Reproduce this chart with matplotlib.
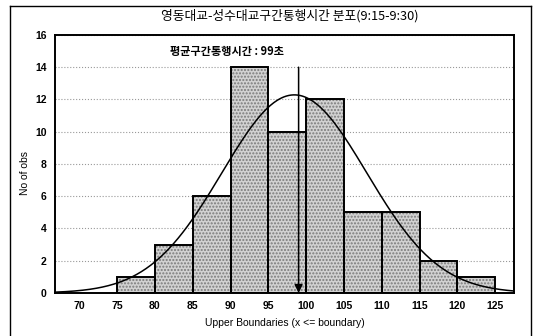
import numpy as np
import matplotlib.pyplot as plt
from matplotlib.lines import Line2D

plt.rcParams['font.family'] = ['Liberation Sans', 'Noto Sans CJK KR', 'DejaVu Sans']

# 통행시간 구간 (상한 경계) 및 도수
bin_edges = [75, 80, 85, 90, 95, 100, 105, 110, 115, 120, 125]
counts = [1, 3, 6, 14, 10, 12, 5, 5, 2, 1]
mean_label = 99
x_ticks = list(range(70, 130, 5))
y_ticks = list(range(0, 18, 2))

edges = np.array(bin_edges, dtype=float)
mids = (edges[:-1] + edges[1:]) / 2
widths = np.diff(edges)
cnt = np.array(counts, dtype=float)

# 구간 자료로 정규분포 곡선 적합
n = cnt.sum()
mu = (mids * cnt).sum() / n
sd = np.sqrt(((mids - mu) ** 2 * cnt).sum() / (n - 1))
xs = np.linspace(66.8, 127.5, 400)
ys = n * widths[0] / (sd * np.sqrt(2 * np.pi)) * np.exp(-0.5 * ((xs - mu) / sd) ** 2)

fig = plt.figure(figsize=(5.35, 3.36), dpi=100)
ax = fig.add_axes([0.103, 0.128, 0.858, 0.768])

ax.bar(edges[:-1], cnt, width=widths, align='edge', color='#d2d2d2',
       hatch='.....', edgecolor='#7a7a7a', linewidth=0, zorder=2)
ax.bar(edges[:-1], cnt, width=widths, align='edge', fill=False,
       edgecolor='black', linewidth=1.4, zorder=3)
ax.plot(xs, ys, color='black', linewidth=1.1, zorder=4)

# 평균 위치 화살표
ax.annotate('', xy=(mean_label, 0), xytext=(mean_label, 14),
            arrowprops=dict(arrowstyle='-|>', color='black', lw=1.1,
                            mutation_scale=12, shrinkA=0, shrinkB=0),
            zorder=5)
ax.text(82, 15, '평균구간통행시간 : 99초', fontsize=8, fontweight='bold',
        family=['Noto Sans CJK KR', 'DejaVu Sans'], va='center', ha='left')

ax.set_xlim(66.8, 127.5)
ax.set_ylim(0, 16)
ax.set_xticks(x_ticks)
ax.set_yticks(y_ticks)
ax.tick_params(labelsize=7.5, length=0, pad=6)
for lab in ax.get_xticklabels() + ax.get_yticklabels():
    lab.set_fontweight('bold')
ax.grid(axis='y', linestyle=':', color='#999999', linewidth=0.8, zorder=0)
ax.set_axisbelow(True)
for sp in ax.spines.values():
    sp.set_linewidth(1.4)

ax.set_xlabel('Upper Boundaries (x <= boundary)', fontsize=7.5, labelpad=5)
fig.text(0.047, 0.485, 'No of obs', rotation=90, fontsize=7.5,
         ha='center', va='center')
fig.text(0.542, 0.952, '영동대교-성수대교구간통행시간 분포(9:15-9:30)',
         fontsize=9.2, ha='center', va='center',
         family=['Noto Sans CJK KR', 'DejaVu Sans'])

# 바깥 테두리
fig.add_artist(Line2D([0.019, 0.019], [0.0, 0.982], color='black', lw=1.0))
fig.add_artist(Line2D([0.9925, 0.9925], [0.0, 0.982], color='black', lw=1.0))
fig.add_artist(Line2D([0.019, 0.9925], [0.982, 0.982], color='black', lw=1.0))

fig.savefig('out.png', dpi=100)
